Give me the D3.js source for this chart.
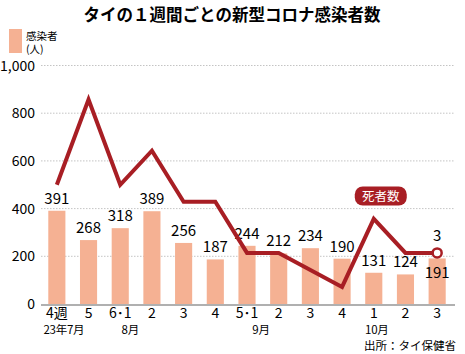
<!DOCTYPE html>
<html>
<head>
<meta charset="utf-8">
<script src="https://cdn.jsdelivr.net/npm/d3@7"></script>
<style>
  body { margin: 0; background: #fff; }
  text { font-family: "Liberation Sans Narrow", "Noto Sans CJK JP", sans-serif; }
  .cjk { font-family: "Noto Sans CJK JP", sans-serif; }
</style>
</head>
<body>
<svg width="465" height="354"></svg>
<script>
const weeks = ['4週', '5', '6･1', '2', '3', '4', '5･1', '2', '3', '4', '1', '2', '3'];
const months = ['23年7月', '', '8月', '', '', '', '9月', '', '', '', '10月', '', ''];
const cases = [391, 268, 318, 389, 256, 187, 244, 212, 234, 190, 131, 124, 191];
const deaths = [7, 12, 7, 9, 6, 6, 3, 3, 2, 1, 5, 3, 3];
const yTicks = [0, 200, 400, 600, 800, 1000];

const svg = d3.select('svg');
const LEFT = 41, RIGHT = 453, TOP = 65.5, BOTTOM = 304;
const RED = '#a81e24';
const BAR = '#f5b193';

// title
svg.append('text')
  .attr('class', 'cjk')
  .attr('x', 232).attr('y', 21)
  .attr('text-anchor', 'middle')
  .style('font-size', '16.5px').style('font-weight', 'bold')
  .text('タイの１週間ごとの新型コロナ感染者数');

// legend
svg.append('rect').attr('x', 9).attr('y', 29).attr('width', 13).attr('height', 24).attr('fill', BAR);
svg.append('text').attr('class', 'cjk').attr('x', 26).attr('y', 39.5)
  .style('font-size', '10.5px').text('感染者');
svg.append('text').attr('class', 'cjk').attr('x', 26).attr('y', 53)
  .style('font-size', '10.5px').text('(人)');

const x = d3.scaleBand().domain(d3.range(cases.length)).range([LEFT, RIGHT]).paddingInner(0.46).paddingOuter(0.23);
const y = d3.scaleLinear().domain([0, 1000]).range([BOTTOM, TOP]);
// deaths drawn against the same axis, 14 deaths = 1,000
const yd = d3.scaleLinear().domain([0, 14]).range([BOTTOM, TOP]);
const cx = i => x(i) + x.bandwidth() / 2;

// grid + y labels
svg.append('g')
  .selectAll('line')
  .data(yTicks.slice(1))
  .join('line')
  .attr('x1', LEFT).attr('x2', RIGHT + 2)
  .attr('y1', d => y(d)).attr('y2', d => y(d))
  .attr('stroke', '#b5b5b5').attr('stroke-width', 0.8).attr('stroke-dasharray', '1.5,1.5');

svg.append('g')
  .selectAll('text')
  .data(yTicks)
  .join('text')
  .attr('x', 35).attr('y', d => y(d) + 5)
  .attr('text-anchor', 'end')
  .style('font-size', '14px')
  .text(d => d3.format(',')(d));

// bars
svg.append('g')
  .selectAll('rect')
  .data(cases)
  .join('rect')
  .attr('x', (d, i) => x(i))
  .attr('y', d => y(d))
  .attr('width', x.bandwidth())
  .attr('height', d => BOTTOM - y(d))
  .attr('fill', BAR);

// baseline
svg.append('line')
  .attr('x1', LEFT).attr('x2', RIGHT + 2)
  .attr('y1', BOTTOM + 1).attr('y2', BOTTOM + 1)
  .attr('stroke', '#b0b0b0').attr('stroke-width', 2);

// bar labels
const last = cases.length - 1;
svg.append('g')
  .selectAll('text')
  .data(cases)
  .join('text')
  .attr('x', (d, i) => cx(i))
  .attr('y', (d, i) => i === last ? y(d) + 20 : y(d) - 7)
  .attr('text-anchor', 'middle')
  .style('font-size', '15px')
  .text(d => d);

// deaths line
const line = d3.line().x((d, i) => cx(i)).y(d => yd(d));
svg.append('path')
  .datum(deaths)
  .attr('d', line)
  .attr('fill', 'none')
  .attr('stroke', RED)
  .attr('stroke-width', 4)
  .attr('stroke-linejoin', 'miter');

svg.append('circle')
  .attr('cx', cx(last)).attr('cy', yd(deaths[last]))
  .attr('r', 4.5)
  .attr('fill', '#fff').attr('stroke', RED).attr('stroke-width', 2.5);

svg.append('text')
  .attr('x', cx(last)).attr('y', yd(deaths[last]) - 12)
  .attr('text-anchor', 'middle')
  .style('font-size', '15px')
  .text(deaths[last]);

// series tag
const tag = svg.append('g').attr('transform', `translate(${cx(10) + 7},196)`);
tag.append('rect').attr('x', -26).attr('y', -9.5).attr('width', 52).attr('height', 19).attr('rx', 8).attr('fill', RED);
tag.append('text').attr('class', 'cjk').attr('y', 4.5).attr('text-anchor', 'middle')
  .attr('fill', '#fff').style('font-size', '12.5px').text('死者数');

// x labels
svg.append('g')
  .selectAll('text')
  .data(weeks)
  .join('text')
  .attr('x', (d, i) => cx(i))
  .attr('y', 317.5)
  .attr('text-anchor', 'middle')
  .style('font-size', '14px')
  .text(d => d);

const monthDx = { '23年7月': 7, '8月': 10, '9月': 14, '10月': 3 };
svg.append('g')
  .selectAll('text')
  .data(months)
  .join('text')
  .attr('class', 'cjk')
  .attr('x', (d, i) => cx(i) + (monthDx[d] || 0))
  .attr('y', 334)
  .attr('text-anchor', 'middle')
  .style('font-size', '11.5px')
  .style('letter-spacing', '-0.3px')
  .text(d => d);

svg.append('text')
  .attr('class', 'cjk')
  .attr('x', 456).attr('y', 349.5)
  .attr('text-anchor', 'end')
  .style('font-size', '11.5px')
  .text('出所：タイ保健省');
</script>
</body>
</html>
